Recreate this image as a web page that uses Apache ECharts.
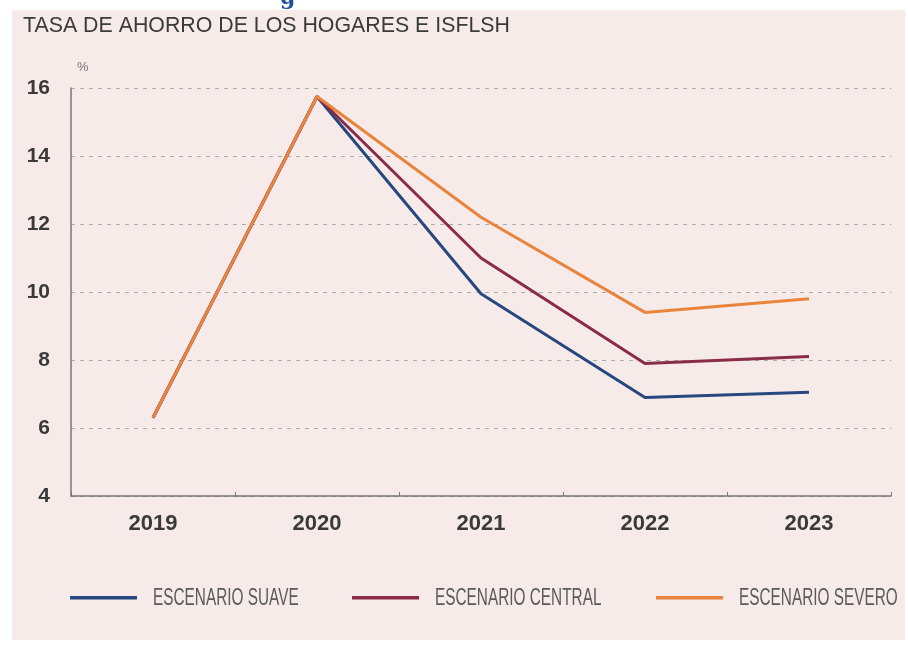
<!DOCTYPE html>
<html><head><meta charset="utf-8">
<script src="https://cdn.jsdelivr.net/npm/echarts@6/dist/echarts.min.js"></script>
<style>
html,body{margin:0;padding:0;background:#fff;}
#bg{position:absolute;left:12px;top:10px;width:893px;height:630px;background:#f7ebea;}
#c{position:absolute;left:0;top:0;width:908px;height:653px;}
</style></head>
<body><div id="bg"></div><div id="c"></div>
<script>
const categories = ['2019','2020','2021','2022','2023'];
const suave   = [6.3, 15.75, 9.95, 6.9, 7.05];
const central = [6.3, 15.75, 11.0, 7.9, 8.1];
const severo  = [6.3, 15.75, 12.2, 9.4, 9.8];
const seriesNames = ['ESCENARIO SUAVE','ESCENARIO CENTRAL','ESCENARIO SEVERO'];
const colors = ['#27477f','#8a2c47','#e9843c'];
const titleText = 'TASA DE AHORRO DE LOS HOGARES E ISFLSH';

const sans = '"Liberation Sans", Arial, sans-serif';
const chart = echarts.init(document.getElementById('c'), null, {renderer:'canvas'});
const legendLeft = [70, 352, 656];
function mkLegend(i){
  return {data:[seriesNames[i]], left:legendLeft[i], top:596, itemWidth:67, itemHeight:3.5, icon:'rect',
          formatter:function(){return '';}, textStyle:{fontSize:1}, selectedMode:false, padding:0};
}
function legendText(i){
  return {type:'text', x:legendLeft[i]+83, y:598, scaleX:0.64, silent:true,
    style:{text:seriesNames[i], fill:'#5a5a5a', font:'24px ' + sans, verticalAlign:'middle', align:'left'}};
}
chart.setOption({
  backgroundColor:'transparent',
  animation:false,
  graphic:[
    {type:'text', x:23, y:26, scaleX:0.97, silent:true,
      style:{text:titleText, fill:'#3a3a3a', font:'22px ' + sans, verticalAlign:'middle', align:'left'}},
    {type:'text', left:77, top:61, style:{text:'%', fill:'#777', font:'13px ' + sans}},
    {type:'text', left:280, top:-13, style:{text:'g', fill:'#1f4f9c', font:'bold 22px "DejaVu Serif", serif'}},
    legendText(0), legendText(1), legendText(2)
  ],
  legend:[mkLegend(0), mkLegend(1), mkLegend(2)],
  grid:{left:71, right:17, top:88, bottom:157},
  xAxis:{type:'category', data:categories, boundaryGap:true,
    axisLine:{lineStyle:{color:'#777', width:1.5}},
    axisTick:{show:true, length:4, inside:true, lineStyle:{color:'#777'}},
    axisLabel:{color:'#3a3a3a', fontSize:22, fontWeight:'bold', margin:17, fontFamily:sans},
    splitLine:{show:false}},
  yAxis:{type:'value', min:4, max:16, interval:2,
    axisLine:{show:true, lineStyle:{color:'#777', width:1.5}},
    axisTick:{show:false},
    axisLabel:{color:'#3a3a3a', fontSize:21, fontWeight:'bold', margin:21, fontFamily:sans},
    splitLine:{show:true, lineStyle:{color:'#aaa', type:[4,5], width:1}}},
  series:[
    {name:seriesNames[0], type:'line', data:suave, symbol:'none', color:colors[0], lineStyle:{width:3, color:colors[0]}, z:2},
    {name:seriesNames[1], type:'line', data:central, symbol:'none', color:colors[1], lineStyle:{width:3, color:colors[1]}, z:3},
    {name:seriesNames[2], type:'line', data:severo, symbol:'none', color:colors[2], lineStyle:{width:3, color:colors[2]}, z:4}
  ]
});
</script></body></html>
